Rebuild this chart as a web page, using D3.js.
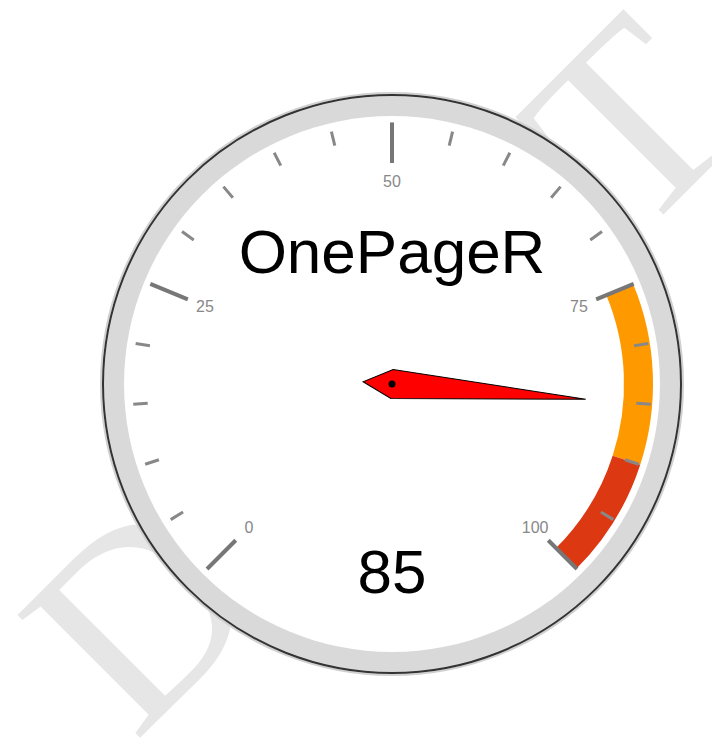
<!DOCTYPE html>
<html>
<head>
<meta charset="utf-8">
<script src="https://cdn.jsdelivr.net/npm/d3@7"></script>
<style>
    body { margin: 0; background: #fff; }
    svg { display: block; }
</style>
</head>
<body>
<div id="gauge"></div>
<script>
// Data
const gaugeLabel = 'OnePageR';
const gaugeValue = 85;
const gaugeDomain = [0, 100];
const majorTicks = [0, 25, 50, 75, 100];
const minorTicks = [5, 10, 15, 20, 30, 35, 40, 45, 55, 60, 65, 70, 80, 85, 90, 95];
const bandFrom = [75, 90];
const bandTo = [90, 100];
const bandColors = ['#ff9900', '#dc3912'];
const watermarkText = 'DRAFT';

// Dimensions
const width = 712;
const height = 740;
const cx = 392;
const cy = 384;
const radius = 290;

const svg = d3.select('#gauge')
    .append('svg')
    .attr('width', width)
    .attr('height', height);

// Watermark behind the dial
svg.append('text')
    .attr('transform', 'translate(442, 436) rotate(-45)')
    .attr('text-anchor', 'middle')
    .attr('font-family', '"Liberation Serif", "Times New Roman", serif')
    .attr('font-size', 265)
    .attr('fill', '#e6e6e6')
    .text(watermarkText);

const g = svg.append('g')
    .attr('transform', `translate(${cx}, ${cy})`);

// value -> angle (degrees, clockwise from top)
const angleScale = d3.scaleLinear()
    .domain(gaugeDomain)
    .range([-135, 135]);

const rad = d => angleScale(d) * Math.PI / 180;
const polar = (v, r) => [r * Math.sin(rad(v)), -r * Math.cos(rad(v))];

// Outer rim
g.append('circle')
    .attr('r', radius + 1)
    .attr('fill', 'none')
    .attr('stroke', '#d0d0d0')
    .attr('stroke-width', 2);
g.append('circle')
    .attr('r', radius - 1)
    .attr('fill', '#d9d9d9')
    .attr('stroke', '#333')
    .attr('stroke-width', 2);
g.append('circle')
    .attr('r', radius * 0.924)
    .attr('fill', '#fff');

// Coloured bands
const bandArc = d3.arc()
    .innerRadius(radius * 0.8)
    .outerRadius(radius * 0.9)
    .startAngle(d => rad(d.from))
    .endAngle(d => rad(d.to));

g.selectAll('.band')
    .data(bandFrom.map((f, i) => ({ from: f, to: bandTo[i], color: bandColors[i] })))
    .enter()
    .append('path')
    .attr('class', 'band')
    .attr('d', bandArc)
    .attr('fill', d => d.color);

// Ticks
g.selectAll('.minor')
    .data(minorTicks)
    .enter()
    .append('line')
    .attr('class', 'minor')
    .attr('x1', d => polar(d, radius * 0.845)[0])
    .attr('y1', d => polar(d, radius * 0.845)[1])
    .attr('x2', d => polar(d, radius * 0.895)[0])
    .attr('y2', d => polar(d, radius * 0.895)[1])
    .attr('stroke', '#888')
    .attr('stroke-width', 3);

g.selectAll('.major')
    .data(majorTicks)
    .enter()
    .append('line')
    .attr('class', 'major')
    .attr('x1', d => polar(d, radius * 0.762)[0])
    .attr('y1', d => polar(d, radius * 0.762)[1])
    .attr('x2', d => polar(d, radius * 0.902)[0])
    .attr('y2', d => polar(d, radius * 0.902)[1])
    .attr('stroke', '#777')
    .attr('stroke-width', 4);

g.selectAll('.tick-label')
    .data(majorTicks)
    .enter()
    .append('text')
    .attr('class', 'tick-label')
    .attr('x', d => polar(d, radius * 0.698)[0])
    .attr('y', d => polar(d, radius * 0.698)[1])
    .attr('dy', '0.35em')
    .attr('text-anchor', 'middle')
    .attr('font-family', 'Arial, "Liberation Sans", sans-serif')
    .attr('font-size', 16)
    .attr('fill', '#888')
    .text(d => d);

// Title and value
g.append('text')
    .attr('x', 0)
    .attr('y', -111)
    .attr('text-anchor', 'middle')
    .attr('font-family', 'Arial, "Liberation Sans", sans-serif')
    .attr('font-size', 62)
    .attr('fill', '#000')
    .text(gaugeLabel);

g.append('text')
    .attr('x', 0)
    .attr('y', 209)
    .attr('text-anchor', 'middle')
    .attr('font-family', 'Arial, "Liberation Sans", sans-serif')
    .attr('font-size', 62)
    .attr('fill', '#000')
    .text(d3.format('d')(gaugeValue));

// Needle
const needleLen = radius * 0.67;
const needleHalf = radius * 0.05;
const needleTail = radius * 0.1;
g.append('path')
    .attr('d', d3.line()([
        [needleLen, 0], [0, needleHalf], [-needleTail, 0], [0, -needleHalf]
    ]) + 'Z')
    .attr('transform', `rotate(${angleScale(gaugeValue) - 90})`)
    .attr('fill', '#ff0000')
    .attr('stroke', '#000')
    .attr('stroke-width', 1);

g.append('circle')
    .attr('r', 3.5)
    .attr('fill', '#000');
</script>
</body>
</html>
